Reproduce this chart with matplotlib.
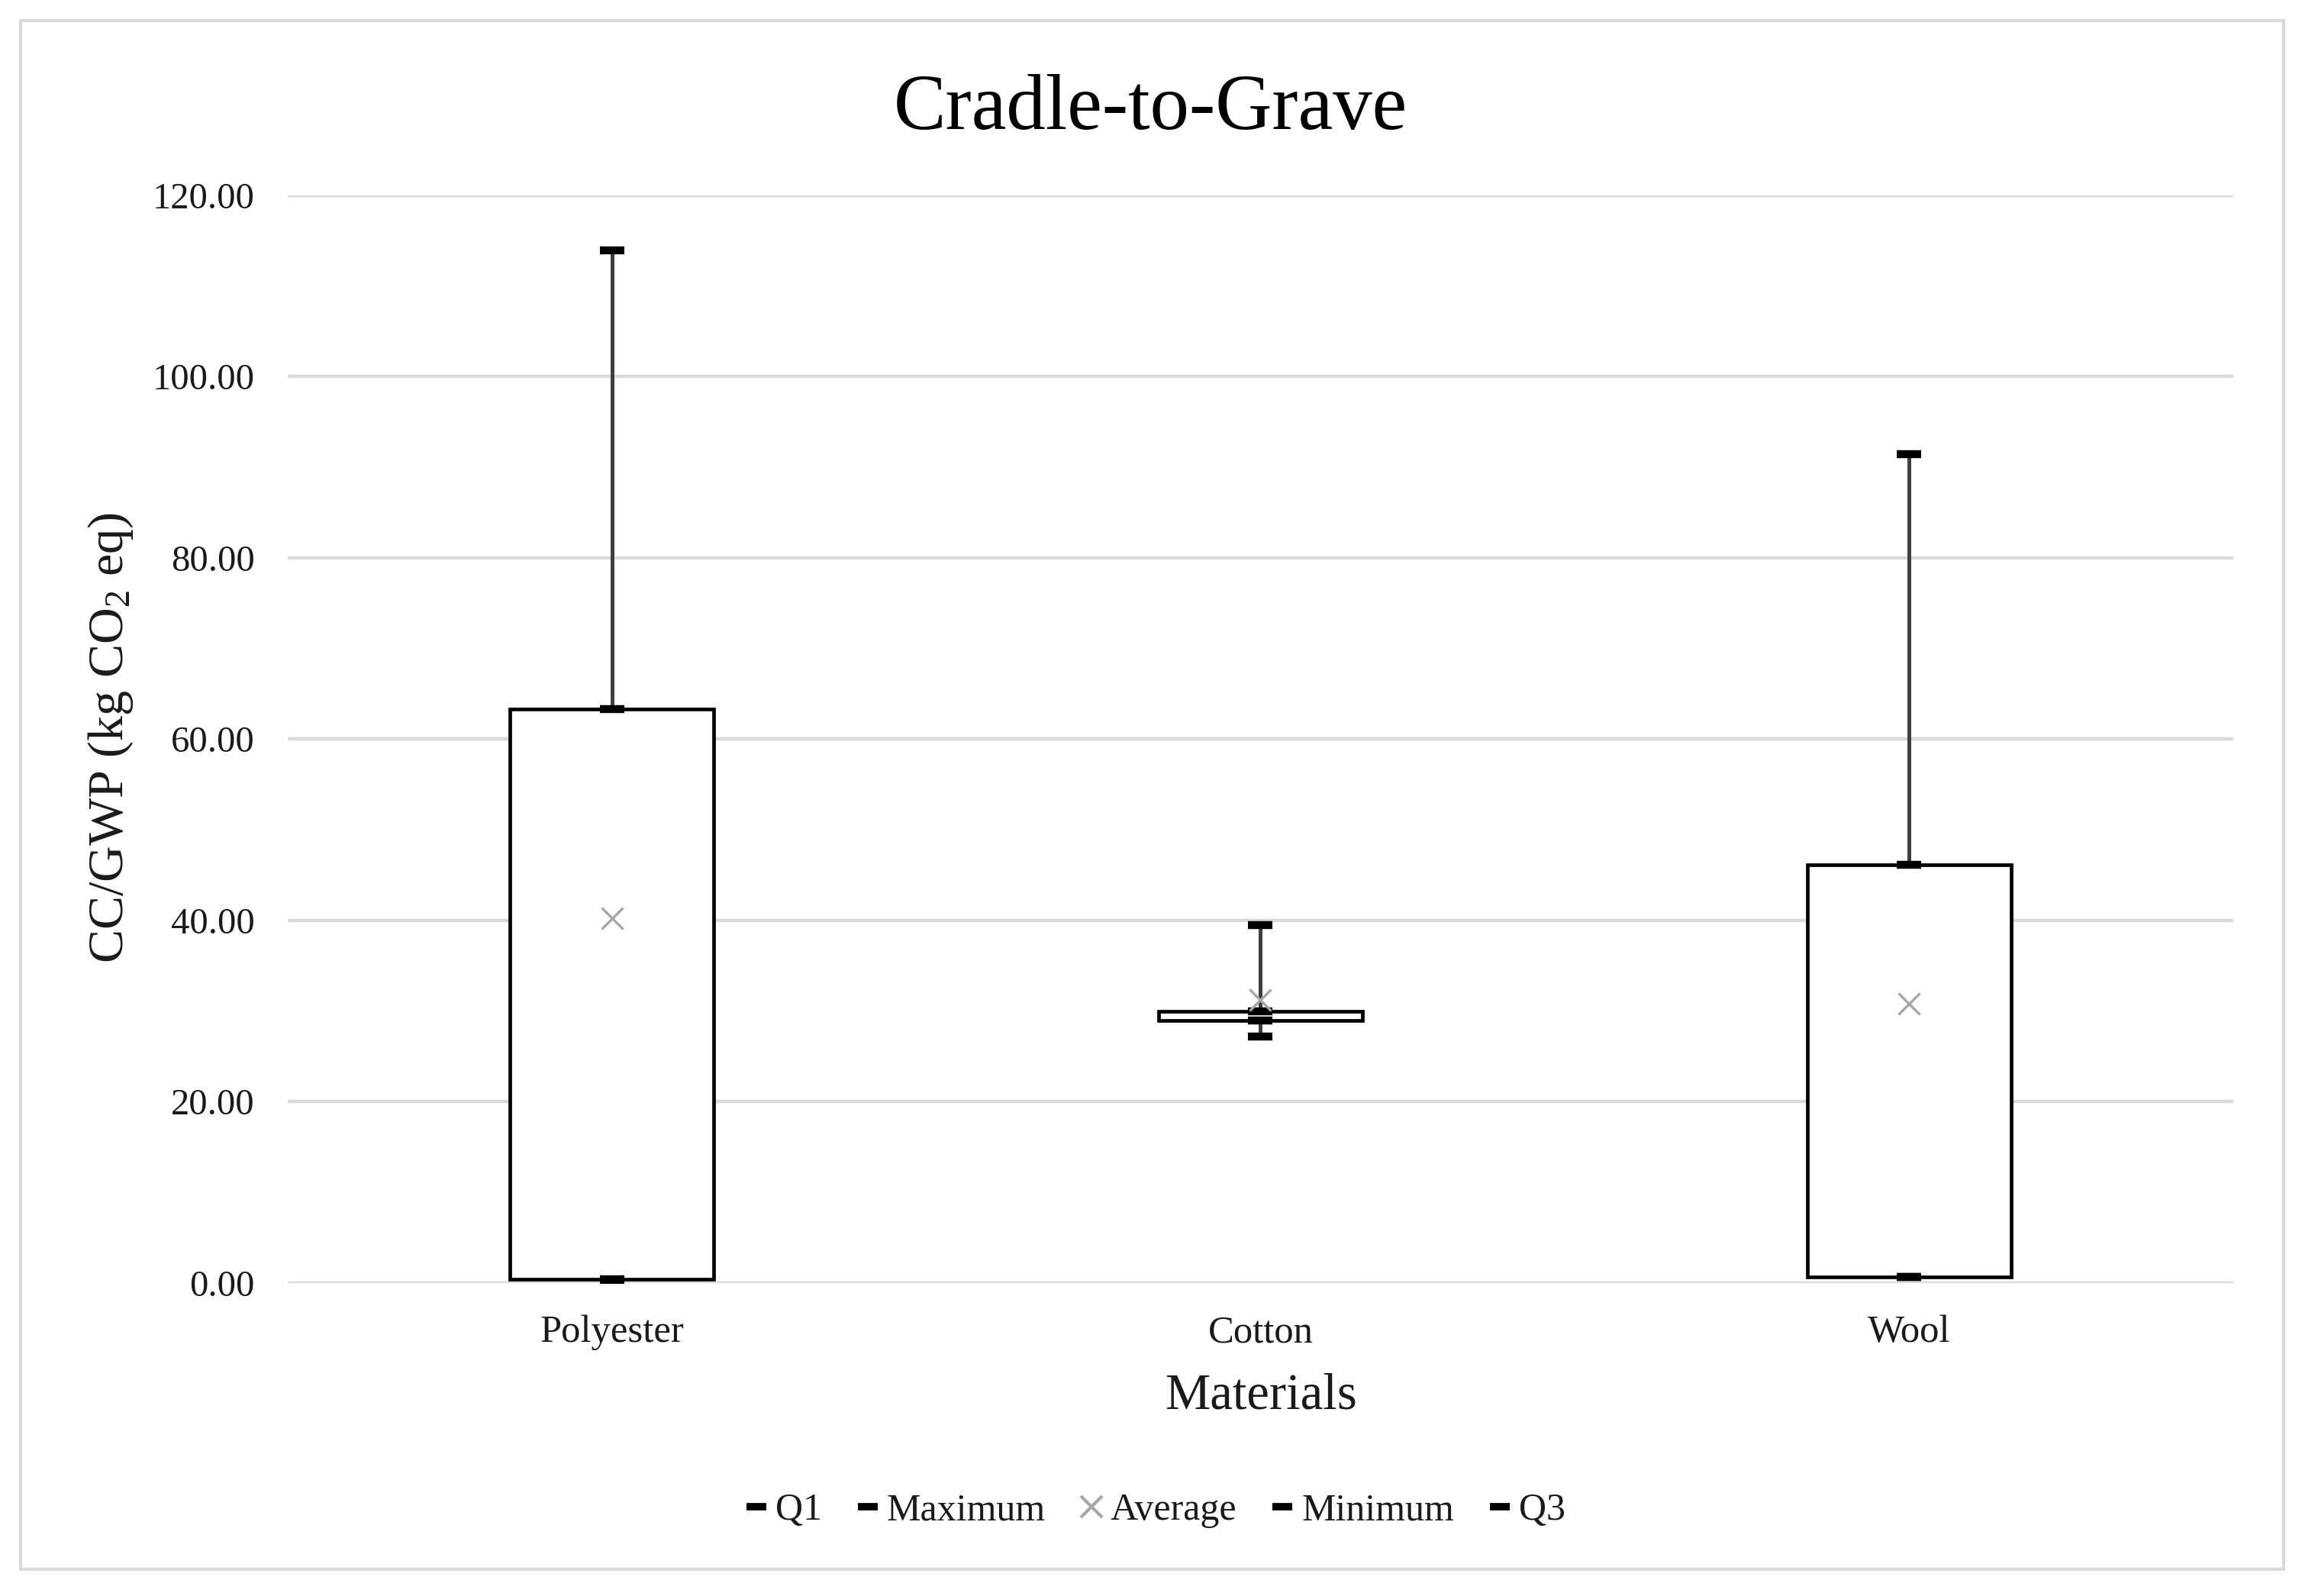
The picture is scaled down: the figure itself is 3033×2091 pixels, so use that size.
import matplotlib
matplotlib.use("Agg")
import matplotlib.pyplot as plt
from matplotlib.lines import Line2D
from matplotlib.patches import Rectangle

materials = ["Polyester", "Cotton", "Wool"]
minimum = [0.35, 27.2, 0.65]
q1 = [0.42, 29.0, 0.67]
q3 = [63.3, 30.0, 46.15]
maximum = [113.9, 39.5, 91.45]
average = [40.25, 31.2, 30.8]
yticks = [0, 20, 40, 60, 80, 100, 120]

plt.rcParams["font.family"] = ["Liberation Serif", "DejaVu Serif"]
plt.rcParams["mathtext.fontset"] = "custom"
plt.rcParams["mathtext.rm"] = "Liberation Serif"
plt.rcParams["mathtext.it"] = "Liberation Serif:italic"

fig = plt.figure(figsize=(30.33, 20.91), dpi=100)
ax = fig.add_axes([0.1243, 0.1961, 0.8404, 0.6815])

x = list(range(len(materials)))
grid_c = "#d9d9d9"
for t in yticks:
    ax.axhline(t, color=grid_c, lw=3.2, zorder=1)

# whiskers
ax.vlines(x, minimum, maximum, color="#404040", lw=3.6, zorder=2)
# boxes
heights = [b - a for a, b in zip(q1, q3)]
ax.bar(x, heights, bottom=q1, width=0.314, facecolor="white",
       edgecolor="black", linewidth=3.4, zorder=3)
# caps
cap_kw = dict(ls="none", marker="_", color="black", ms=23, mew=7.5, zorder=4)
for series in (q1, maximum, minimum, q3):
    ax.plot(x, series, **cap_kw)
# averages
ax.plot(x, average, ls="none", marker="x", color="#a6a6a6", ms=20, mew=2.4, zorder=5)

ax.set_xlim(-0.5, 2.5)
ax.set_ylim(0, 120)
ax.set_yticks(yticks)
ax.set_yticklabels([f"{v:.2f}" for v in yticks])
ax.set_xticks(x)
ax.set_xticklabels(materials)
ax.tick_params(axis="y", length=0, pad=31, labelsize=35, labelcolor="#1a1a1a")
ax.tick_params(axis="x", length=0, pad=30, labelsize=36.5, labelcolor="#1a1a1a")
for s in ax.spines.values():
    s.set_visible(False)

fig.text(0.497, 0.919, "Cradle-to-Grave", ha="center", va="baseline",
         fontsize=74, color="black")
fig.text(0.5446, 0.1255, "Materials", ha="center", va="center", fontsize=48,
         color="#1a1a1a")
fig.text(0.048, 0.5376, r"CC/GWP (kg CO$_\mathrm{2}$ eq)", ha="center", va="center",
         rotation=90, fontsize=47.5, color="#1a1a1a")

handles = [
    Line2D([], [], ls="none", marker="_", color="black", ms=19, mew=7),
    Line2D([], [], ls="none", marker="_", color="black", ms=19, mew=7),
    Line2D([], [], ls="none", marker="x", color="#a6a6a6", ms=20, mew=3),
    Line2D([], [], ls="none", marker="_", color="black", ms=19, mew=7),
    Line2D([], [], ls="none", marker="_", color="black", ms=19, mew=7),
]
labels = ["Q1", "Maximum", "Average", "Minimum", "Q3"]
fig.legend(handles, labels, loc="center", bbox_to_anchor=(0.499, 0.0535), ncol=5,
           frameon=False, fontsize=36, handlelength=0.6, handletextpad=0.2,
           columnspacing=0.9, labelcolor="#1a1a1a")

fig.patches.append(Rectangle((27 / 3033, 1 - 2056 / 2091), (2992 - 27) / 3033,
                             (2056 - 27) / 2091, transform=fig.transFigure,
                             fill=False, edgecolor=grid_c, lw=3))

fig.savefig("out.png", dpi=100, facecolor="white")
